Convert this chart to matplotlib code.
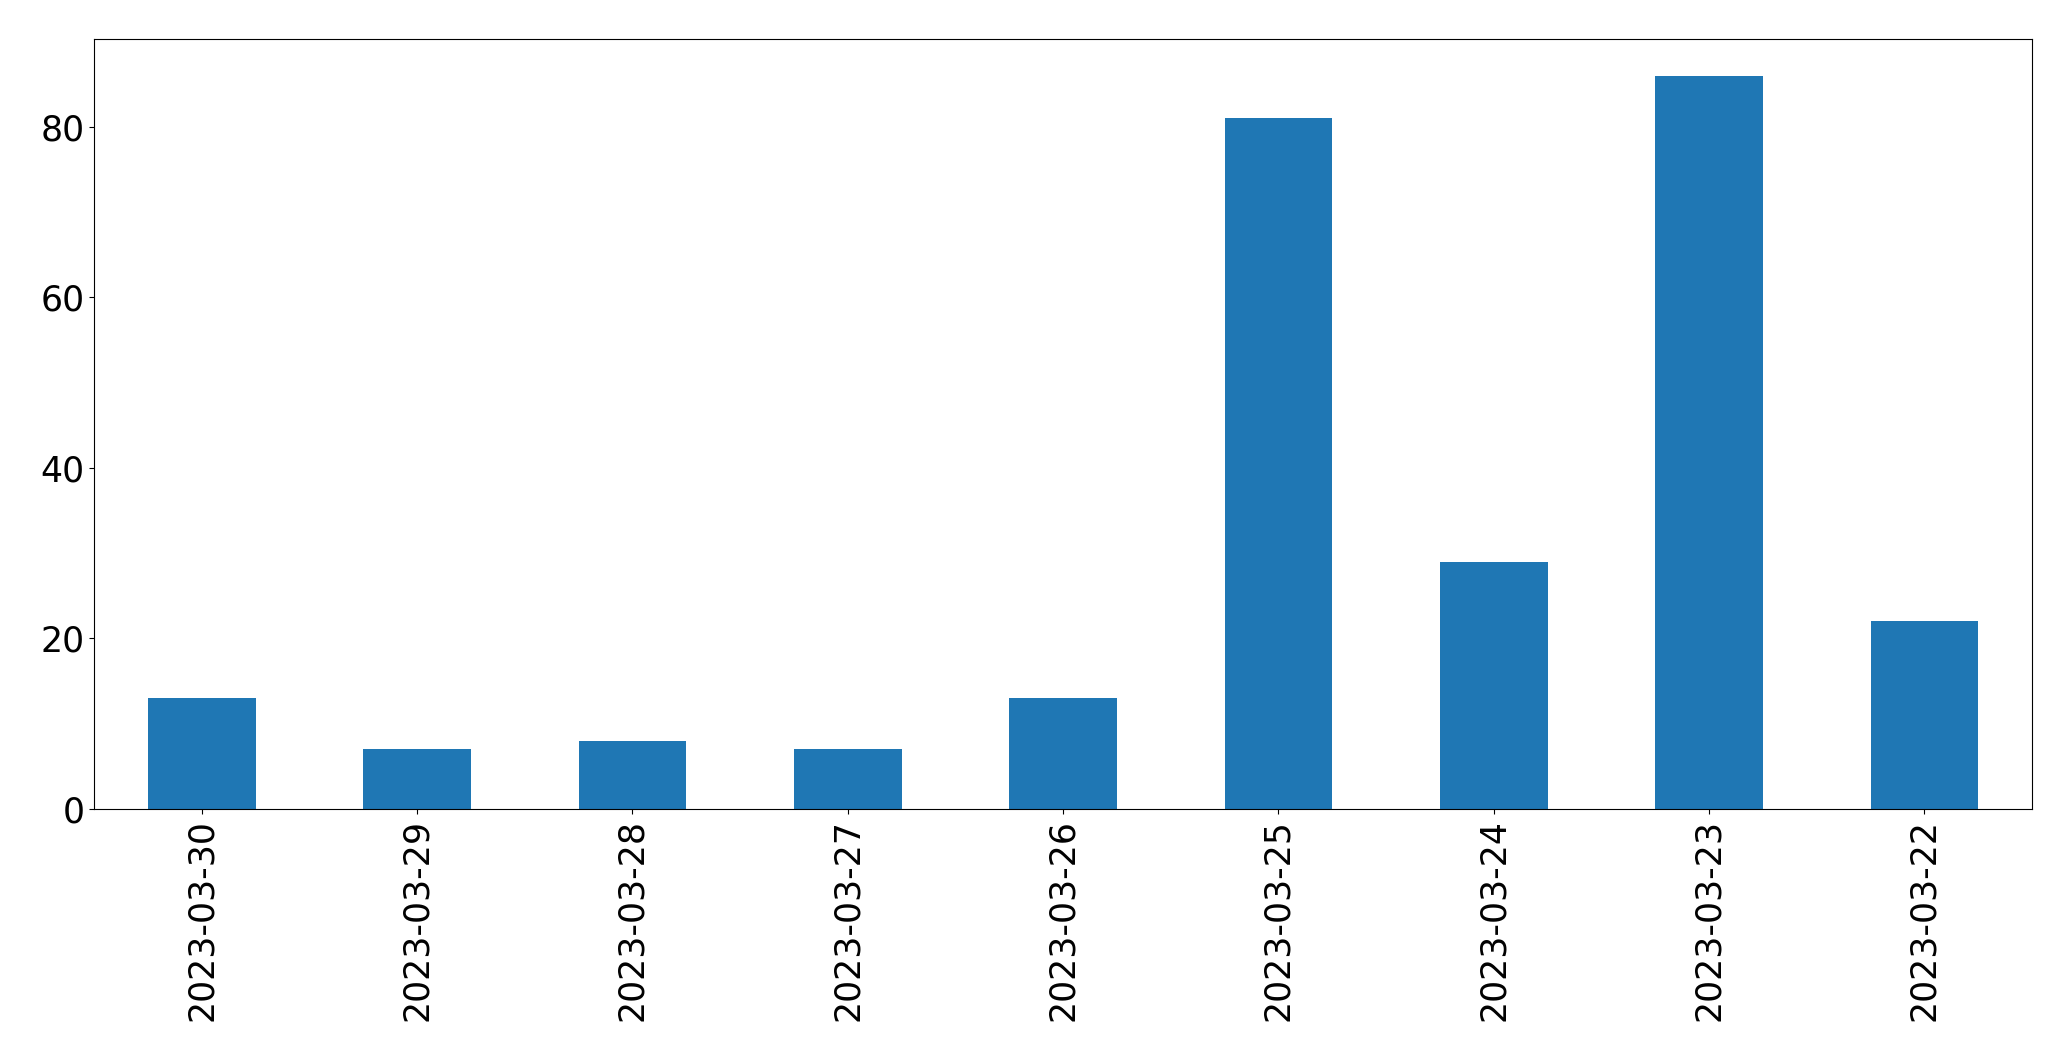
import pandas as pd
import matplotlib
matplotlib.use("Agg")
import matplotlib.pyplot as plt

dates = ["2023-03-30", "2023-03-29", "2023-03-28", "2023-03-27", "2023-03-26",
         "2023-03-25", "2023-03-24", "2023-03-23", "2023-03-22"]
counts = [13, 7, 8, 7, 13, 81, 29, 86, 22]

s = pd.Series(counts, index=dates)

fig, ax = plt.subplots(figsize=(20.71, 10.61), dpi=100)
s.plot(kind="bar", ax=ax, color="#1f77b4")
ax.tick_params(axis="both", labelsize=25)
plt.subplots_adjust(left=0.0454, right=0.9812, top=0.9632, bottom=0.2375)
plt.savefig("out.png", dpi=100)
